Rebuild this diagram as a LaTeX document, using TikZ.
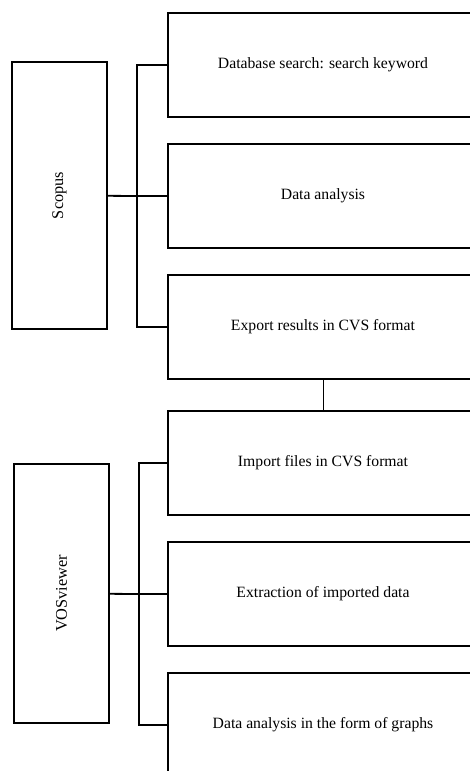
\documentclass[tikz,border=0pt]{standalone}
\usepackage{fontspec}
\setmainfont{Liberation Serif}
\usepackage{graphicx}
\tikzset{
every picture/.style={
line width=1pt
}}

\begin{document}
\begin{tikzpicture}[x=1pt, y=-1pt,
stepbox/.style = {rectangle, draw=black, line width=1.8pt, minimum width=310pt, minimum height=104pt, inner sep=0pt, font=\fontsize{15.7}{18}\selectfont},
toolbox/.style = {rectangle, draw=black, line width=1.8pt, minimum width=95pt, minimum height=267pt, inner sep=0pt, font=\fontsize{16.3}{18}\selectfont},
bus/.style = {line width=1.4pt}]
\useasboundingbox (0,0) rectangle (470,771);
\clip (0,0) rectangle (470,771);
% Scopus group
\node[toolbox] at (59.5,195.5) (scopus) {\rotatebox{90}{Scopus}};
\node[stepbox] at (323,65) (search) {Database search: search keyword};
\node[stepbox] at (323,196) (analysis) {Data analysis};
\node[stepbox] at (323,327) (export) {Export results in CVS format};
% VOSviewer group
\node[toolbox, minimum height=259pt] at (61.5,593.5) (vos) {\rotatebox{90}{VOSviewer}};
\node[stepbox] at (323,463) (import) {Import files in CVS format};
\node[stepbox] at (323,594) (extract) {Extraction of imported data};
\node[stepbox] at (323,725) (graphs) {Data analysis in the form of graphs};
\coordinate (sbus) at (137,196);
\coordinate (vbus) at (139,594);
\draw [line width=1.8pt] (scopus) -- (sbus);
\draw [bus] (sbus) -- (analysis);
\draw [bus] (search.west) -| (sbus) |- (export.west);
\draw [line width=1.8pt] (vos) -- (vbus);
\draw [bus] (vbus) -- (extract);
\draw [bus] (import.west) -| (vbus) |- (graphs.west);
\draw [line width=0.9pt] (export) -- (import);
\end{tikzpicture}
\end{document}
